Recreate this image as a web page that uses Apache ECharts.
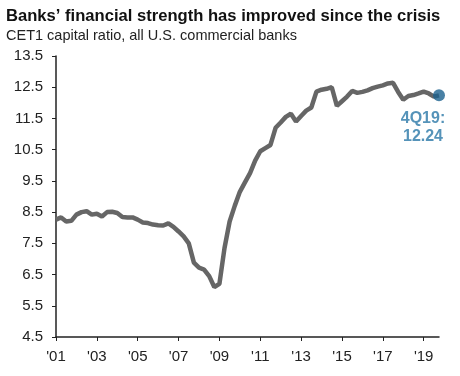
<!DOCTYPE html>
<html>
<head>
<meta charset="utf-8">
<script src="https://cdn.jsdelivr.net/npm/echarts@6/dist/echarts.min.js"></script>
<style>
  html, body { margin: 0; padding: 0; background: #fff; }
  #main { width: 460px; height: 376px; }
</style>
</head>
<body>
<div id="main"></div>
<script>
// quarterly, 1Q01 .. 4Q19
var years = [];
for (var y = 2001; y <= 2019; y++) years.push(y);
var quarters = [];
years.forEach(function (y) {
    for (var q = 1; q <= 4; q++) quarters.push(q + 'Q' + String(y).slice(2));
});

var cet1 = [
    8.26, 8.33, 8.20, 8.22, 8.42, 8.50, 8.53, 8.42,
    8.45, 8.36, 8.50, 8.51, 8.47, 8.34, 8.33, 8.33,
    8.26, 8.17, 8.15, 8.10, 8.08, 8.07, 8.14, 8.03,
    7.88, 7.72, 7.50, 6.88, 6.72, 6.66, 6.45, 6.10,
    6.20, 7.35, 8.20, 8.70, 9.15, 9.45, 9.75, 10.15,
    10.45, 10.55, 10.65, 11.20, 11.37, 11.55, 11.65, 11.40,
    11.58, 11.75, 11.85, 12.36, 12.42, 12.45, 12.50, 11.90,
    12.05, 12.20, 12.38, 12.32, 12.35, 12.40, 12.47, 12.52,
    12.56, 12.62, 12.64, 12.35, 12.10, 12.22, 12.25, 12.30,
    12.36, 12.30, 12.20, 12.24
];

var lastLabel = '4Q19:';
var lastValue = 12.24;

var yMin = 4.5, yMax = 13.5, yStep = 1;

var myChart = echarts.init(document.getElementById('main'));
var option = {
    animation: false,
    title: {
        text: 'Banks\u2019 financial strength has improved since the crisis',
        subtext: 'CET1 capital ratio, all U.S. commercial banks',
        left: 1,
        top: 3,
        itemGap: 3,
        textStyle: { fontFamily: 'Liberation Sans', fontSize: 16.6, fontWeight: 'bold', color: '#111' },
        subtextStyle: { fontFamily: 'Liberation Sans', fontSize: 14.5, color: '#222' }
    },
    grid: { left: 56, right: 21, top: 56, bottom: 39 },
    xAxis: {
        type: 'category',
        data: quarters,
        boundaryGap: false,
        axisLine: { lineStyle: { color: '#222', width: 1.5 } },
        axisTick: { interval: 7, length: 4, lineStyle: { color: '#222' } },
        axisLabel: {
            interval: 7,
            margin: 12,
            fontFamily: 'Liberation Sans',
            fontSize: 15,
            color: '#222',
            formatter: function (v) { return "'" + v.slice(2); }
        },
        splitLine: { show: false }
    },
    yAxis: {
        type: 'value',
        min: yMin,
        max: yMax,
        interval: yStep,
        axisLine: { show: true, lineStyle: { color: '#222', width: 1.5 } },
        axisTick: { show: true, length: 4, lineStyle: { color: '#222' } },
        axisLabel: {
            margin: 13,
            fontFamily: 'Liberation Sans',
            fontSize: 15,
            color: '#222',
            formatter: function (v) { return v.toFixed(1); }
        },
        splitLine: { show: false }
    },
    series: [
        {
            type: 'line',
            data: cet1,
            symbol: 'none',
            lineStyle: { color: '#666', width: 4.5 },
            z: 2
        },
        {
            type: 'scatter',
            data: [[quarters.length - 1, lastValue]],
            symbolSize: 12,
            itemStyle: { color: '#1b628f' },
            label: {
                show: true,
                position: 'bottom',
                offset: [-16, 3],
                align: 'center',
                formatter: lastLabel + '\n' + lastValue.toFixed(2),
                fontFamily: 'Liberation Sans',
                fontSize: 16,
                fontWeight: 'bold',
                lineHeight: 18,
                color: '#2a78a8'
            },
            z: 3
        }
    ]
};
myChart.setOption(option);
</script>
</body>
</html>
